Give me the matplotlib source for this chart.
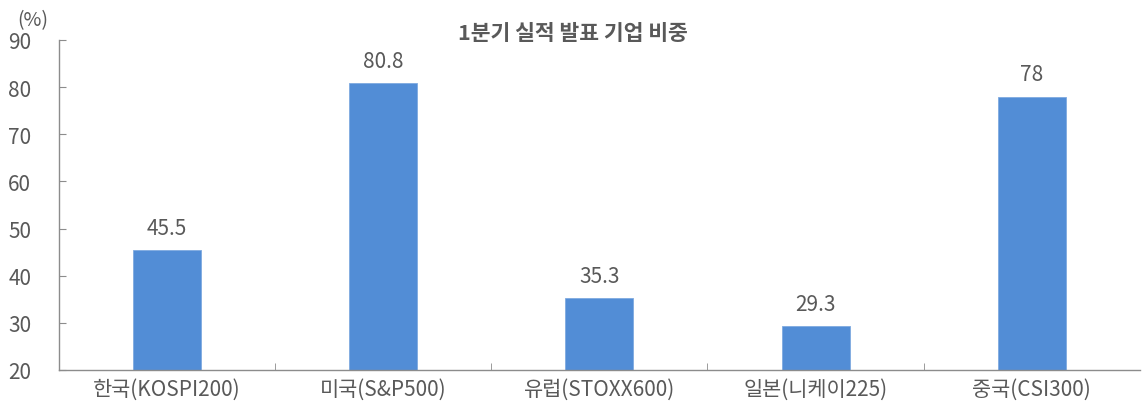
import numpy as np
import matplotlib
matplotlib.use('Agg')
import matplotlib.pyplot as plt

plt.rcParams['font.family'] = ['Noto Sans CJK KR', 'DejaVu Sans']

categories = ['한국(KOSPI200)', '미국(S&P500)', '유럽(STOXX600)', '일본(니케이225)', '중국(CSI300)']
values = [45.5, 80.8, 35.3, 29.3, 78]
value_labels = ['45.5', '80.8', '35.3', '29.3', '78']
title = '1분기 실적 발표 기업 비중'

text_color = '#595959'
bar_color = '#528DD6'
spine_color = '#8C8C8C'

fig = plt.figure(figsize=(11.45, 4.14), dpi=100)
ax = fig.add_axes([0.0515, 0.104, 0.944, 0.797])

x = np.arange(len(categories))
ax.bar(x, values, width=0.315, color=bar_color, edgecolor='#7FAAE0', linewidth=0.6)

for xi, v, lab in zip(x, values, value_labels):
    ax.annotate(lab, (xi, v), xytext=(0, 8), textcoords='offset points',
                ha='center', va='bottom', fontsize=15, color=text_color)

ax.set_xlim(-0.5, len(categories) - 0.5)
ax.set_ylim(20, 90)
ax.set_yticks(range(20, 91, 10))
ax.set_xticks(x)
ax.set_xticklabels(categories)
ax.set_xticks(np.arange(0.5, len(categories) - 0.5, 1), minor=True)

ax.tick_params(axis='y', direction='in', length=5, color=spine_color, labelsize=15,
               labelcolor=text_color, pad=20)
ax.tick_params(axis='x', which='major', length=0, labelsize=15, labelcolor=text_color, pad=6)
ax.tick_params(axis='x', which='minor', direction='in', length=5, color=spine_color)

for s in ['top', 'right']:
    ax.spines[s].set_visible(False)
for s in ['left', 'bottom']:
    ax.spines[s].set_color(spine_color)
    ax.spines[s].set_linewidth(1.0)

fig.text(0.5, 0.918, title, ha='center', va='center', fontsize=15.5, fontweight='bold', color=text_color)
fig.text(0.029, 0.95, '(%)', ha='center', va='center', fontsize=14, color=text_color)

fig.savefig('out.png', dpi=100)
